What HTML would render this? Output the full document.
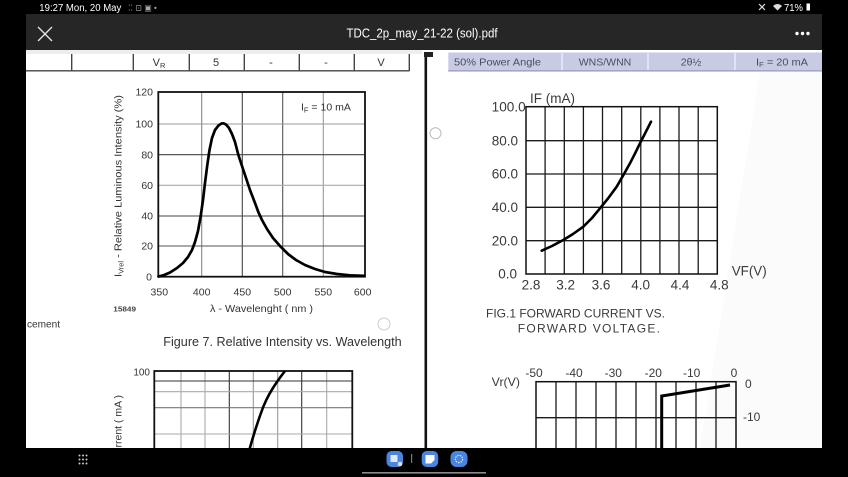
<!DOCTYPE html>
<html><head><meta charset="utf-8"><style>
html,body{margin:0;padding:0;background:#000;width:848px;height:477px;overflow:hidden;}
svg{display:block;font-family:"Liberation Sans",sans-serif;}
</style></head><body>
<svg width="848" height="477" viewBox="0 0 848 477" xmlns="http://www.w3.org/2000/svg">
<rect x="0" y="0" width="848" height="477" fill="#000"/>
<!-- status bar -->
<text x="39.3" y="10.8" font-size="10" fill="#fff" textLength="82" lengthAdjust="spacingAndGlyphs">19:27  Mon, 20 May</text>
<text x="128" y="10.5" font-size="8" fill="#aaa">⁚⁚ ⊡ ▣ •</text>
<path d="M759 4 L765 10 M765 4 L759 10" stroke="#ddd" stroke-width="1.2"/>
<path d="M773 6 Q777.5 2 782 6 L777.5 10.5 Z" fill="#ddd"/>
<text x="784" y="10.8" font-size="10" fill="#fff" textLength="19" lengthAdjust="spacingAndGlyphs">71%</text>
<rect x="806.5" y="3.5" width="3.5" height="7" fill="#fff"/>
<!-- app bar -->
<rect x="26" y="14" width="796" height="36" fill="#262626"/>
<path d="M38 27 L52 41 M52 27 L38 41" stroke="#e6e6e6" stroke-width="1.3"/>
<text x="422" y="37.5" font-size="13" fill="#fff" text-anchor="middle" textLength="151" lengthAdjust="spacingAndGlyphs">TDC_2p_may_21-22 (sol).pdf</text>
<circle cx="797" cy="33.5" r="1.7" fill="#fff"/><circle cx="802.5" cy="33.5" r="1.7" fill="#fff"/><circle cx="808" cy="33.5" r="1.7" fill="#fff"/>
<!-- page -->
<rect x="26" y="50" width="796" height="398" fill="#fff"/>
<rect x="26" y="50" width="396" height="4" fill="#eee"/>
<polygon points="760,72 822,72 822,448 700,448" fill="#fbfbfc"/>
<!-- left table row -->
<g stroke="#444" stroke-width="1.4">
<line x1="26" y1="70.8" x2="409.5" y2="70.8"/>
<line x1="71.7" y1="54" x2="71.7" y2="71"/>
<line x1="133.3" y1="54" x2="133.3" y2="71"/>
<line x1="189.3" y1="54" x2="189.3" y2="71"/>
<line x1="244.3" y1="54" x2="244.3" y2="71"/>
<line x1="299.3" y1="54" x2="299.3" y2="71"/>
<line x1="354.3" y1="54" x2="354.3" y2="71"/>
<line x1="409.3" y1="54" x2="409.3" y2="71"/>
</g>
<g font-size="11" fill="#333" text-anchor="middle">
<text x="159" y="66">V<tspan font-size="7.5" dy="2">R</tspan></text>
<text x="216" y="66">5</text>
<text x="271" y="66">-</text>
<text x="326" y="66">-</text>
<text x="381" y="66">V</text>
</g>
<!-- divider -->
<rect x="424.5" y="52" width="2.6" height="396" fill="#111"/>
<rect x="424" y="52" width="9" height="5" fill="#222"/>
<!-- right header band -->
<rect x="448.3" y="52.5" width="373.7" height="19" fill="#c9cbe5"/>
<rect x="448.3" y="70" width="373.7" height="1.6" fill="#a2a6c8"/>
<g stroke="#eef0fa" stroke-width="1.3"><line x1="562" y1="53" x2="562" y2="70"/><line x1="648" y1="53" x2="648" y2="70"/><line x1="735" y1="53" x2="735" y2="70"/></g>
<g font-size="10.5" fill="#4a4c66">
<text x="454" y="65.5" textLength="87" lengthAdjust="spacingAndGlyphs">50% Power Angle</text>
<text x="605" y="65.5" text-anchor="middle">WNS/WNN</text>
<text x="691" y="65.5" text-anchor="middle">2θ½</text>
<text x="756" y="65.5" textLength="52" lengthAdjust="spacingAndGlyphs">I<tspan font-size="7.5" dy="1.5">F</tspan><tspan dy="-1.5"> = 20 mA</tspan></text>
</g>
<!-- circles -->
<circle cx="435.5" cy="133.3" r="5.5" fill="none" stroke="#bbb" stroke-width="1"/>
<circle cx="384" cy="324" r="6" fill="none" stroke="#ccc" stroke-width="1"/>

<!-- LEFT CHART -->
<g stroke-width="1.1">
<line x1="201.7" y1="92" x2="201.7" y2="276.7" stroke="#888"/>
<line x1="242.3" y1="92" x2="242.3" y2="276.7" stroke="#444"/>
<line x1="282.7" y1="92" x2="282.7" y2="276.7" stroke="#555"/>
<line x1="323.3" y1="92" x2="323.3" y2="276.7" stroke="#999"/>
<line x1="158.3" y1="124" x2="365" y2="124" stroke="#999"/>
<line x1="158.3" y1="154.7" x2="365" y2="154.7" stroke="#444"/>
<line x1="158.3" y1="185.3" x2="365" y2="185.3" stroke="#aaa"/>
<line x1="158.3" y1="216" x2="365" y2="216" stroke="#444"/>
<line x1="158.3" y1="246" x2="365" y2="246" stroke="#555"/>
</g>
<rect x="158.3" y="92" width="206.7" height="184.7" fill="none" stroke="#111" stroke-width="1.8"/>
<polyline fill="none" stroke="#000" stroke-width="2.7" stroke-linejoin="round" stroke-linecap="round" points="158.5,276.5 163,275.5 170,272.5 177,268 183,263 188,257 192,250 195,242 198,231 200.7,216 203,200 205,183 207.3,165 209.5,150 212,138 215,130 218.5,125.5 221.5,123.5 223.5,123.3 226,124.5 229,128 232,134 235,142 238.3,154.7 241,163 245,175 250,190 255,203 258.3,212 262,220 267,229 273,238 280,246 288,254 296,260 305,265 315,269 325,272 337,274 350,275.3 364,275.8"/>
<g font-size="10.5" fill="#333" text-anchor="end">
<text x="153" y="95.7">120</text>
<text x="153" y="127.7">100</text>
<text x="153" y="158.4">80</text>
<text x="153" y="189">60</text>
<text x="153" y="219.7">40</text>
<text x="153" y="249.7">20</text>
<text x="152" y="280.4">0</text>
</g>
<g font-size="10.5" fill="#333" text-anchor="middle">
<text x="159.3" y="295.4">350</text>
<text x="201.7" y="295.4">400</text>
<text x="242.3" y="295.4">450</text>
<text x="282.7" y="295.4">500</text>
<text x="323.3" y="295.4">550</text>
<text x="362.7" y="295.4">600</text>
</g>
<text x="210" y="312" font-size="10.5" fill="#333" textLength="103" lengthAdjust="spacingAndGlyphs">λ - Wavelenght ( nm )</text>
<text x="113.3" y="311.5" font-size="7" font-weight="bold" fill="#444" textLength="22.7" lengthAdjust="spacingAndGlyphs">15849</text>
<text x="301" y="110.4" font-size="10.5" fill="#333">I<tspan font-size="7.5" dy="2">F</tspan><tspan dy="-2"> = 10 mA</tspan></text>
<text transform="translate(121.7,186) rotate(-90)" text-anchor="middle" font-size="10.5" fill="#333" textLength="182" lengthAdjust="spacingAndGlyphs">I<tspan font-size="7" dy="2">Vrel</tspan><tspan dy="-2"> - Relative Luminous Intensity (%)</tspan></text>
<text x="163.3" y="346" font-size="12.5" fill="#333" textLength="238.4" lengthAdjust="spacingAndGlyphs">Figure 7. Relative Intensity vs. Wavelength</text>
<text x="27" y="327.5" font-size="10" fill="#333" textLength="33" lengthAdjust="spacingAndGlyphs">cement</text>

<!-- RIGHT CHART -->
<g stroke="#1a1a1a" stroke-width="1.3">
<line x1="545.1" y1="106.7" x2="545.1" y2="274"/>
<line x1="564.3" y1="106.7" x2="564.3" y2="274"/>
<line x1="583.4" y1="106.7" x2="583.4" y2="274"/>
<line x1="602.5" y1="106.7" x2="602.5" y2="274"/>
<line x1="621.7" y1="106.7" x2="621.7" y2="274"/>
<line x1="640.8" y1="106.7" x2="640.8" y2="274"/>
<line x1="659.9" y1="106.7" x2="659.9" y2="274"/>
<line x1="679" y1="106.7" x2="679" y2="274"/>
<line x1="698.2" y1="106.7" x2="698.2" y2="274"/>
<line x1="526" y1="140.7" x2="717.3" y2="140.7"/>
<line x1="526" y1="174" x2="717.3" y2="174"/>
<line x1="526" y1="207.3" x2="717.3" y2="207.3"/>
<line x1="526" y1="240.7" x2="717.3" y2="240.7"/>
</g>
<rect x="526" y="106.7" width="191.3" height="167.3" fill="none" stroke="#111" stroke-width="1.5"/>
<polyline fill="none" stroke="#000" stroke-width="2.6" stroke-linejoin="round" stroke-linecap="round" points="541.7,250.7 552,246 563.3,240 573,234 583.3,226.7 592,218 600,208.3 608,198.5 616.7,186.7 624,174 630,163.3 635,153.5 640,143.3 645.5,132.5 651,121.7"/>
<g font-size="13.5" fill="#3a3a3a">
<text x="491.7" y="111.4" textLength="34" lengthAdjust="spacingAndGlyphs">100.0</text>
<text x="491.7" y="145.4">80.0</text>
<text x="491.7" y="178.7">60.0</text>
<text x="491.7" y="212">40.0</text>
<text x="491.7" y="245.4">20.0</text>
<text x="498.3" y="278.7">0.0</text>
<text x="530" y="103">IF (mA)</text>
<text x="731.7" y="275.4" textLength="35" lengthAdjust="spacingAndGlyphs">VF(V)</text>
</g>
<g font-size="13.5" fill="#3a3a3a" text-anchor="middle">
<text x="531" y="289.7">2.8</text>
<text x="565.7" y="289.7">3.2</text>
<text x="601" y="289.7">3.6</text>
<text x="640.7" y="289.7">4.0</text>
<text x="680" y="289.7">4.4</text>
<text x="719.3" y="289.7">4.8</text>
</g>
<text x="486" y="317.5" font-size="12" fill="#3a3a3a" textLength="179" lengthAdjust="spacingAndGlyphs">FIG.1 FORWARD CURRENT VS.</text>
<text x="517.7" y="332.5" font-size="12" fill="#3a3a3a" textLength="142.3" lengthAdjust="spacing">FORWARD VOLTAGE.</text>

<!-- LOWER LEFT CHART -->
<g stroke-width="1.1">
<line x1="181" y1="371" x2="181" y2="448" stroke="#aaa"/>
<line x1="205" y1="371" x2="205" y2="448" stroke="#aaa"/>
<line x1="229.3" y1="371" x2="229.3" y2="448" stroke="#333"/>
<line x1="253.3" y1="371" x2="253.3" y2="448" stroke="#999"/>
<line x1="277.7" y1="371" x2="277.7" y2="448" stroke="#999"/>
<line x1="301.7" y1="371" x2="301.7" y2="448" stroke="#333"/>
<line x1="326.7" y1="371" x2="326.7" y2="448" stroke="#aaa"/>
<line x1="154.3" y1="381" x2="352.3" y2="381" stroke="#333"/>
<line x1="154.3" y1="391.7" x2="352.3" y2="391.7" stroke="#aaa"/>
<line x1="154.3" y1="407.7" x2="352.3" y2="407.7" stroke="#777"/>
<line x1="154.3" y1="434" x2="352.3" y2="434" stroke="#aaa"/>
</g>
<rect x="154.3" y="371" width="198" height="85" fill="none" stroke="#111" stroke-width="1.8"/>
<path d="M285,371 Q270,390 263.3,406.7 Q256,426 249.3,450" fill="none" stroke="#000" stroke-width="2.6"/>
<text x="150" y="375.4" font-size="10" fill="#333" text-anchor="end">100</text>
<text transform="translate(121.5,395) rotate(-90)" text-anchor="end" font-size="10.5" fill="#333">Current ( mA )</text>

<!-- LOWER RIGHT CHART -->
<g stroke="#1a1a1a" stroke-width="1.3">
<line x1="556" y1="381.7" x2="556" y2="448"/>
<line x1="576" y1="381.7" x2="576" y2="448"/>
<line x1="596" y1="381.7" x2="596" y2="448"/>
<line x1="616" y1="381.7" x2="616" y2="448"/>
<line x1="636" y1="381.7" x2="636" y2="448"/>
<line x1="656" y1="381.7" x2="656" y2="448"/>
<line x1="676" y1="381.7" x2="676" y2="448"/>
<line x1="696" y1="381.7" x2="696" y2="448"/>
<line x1="716" y1="381.7" x2="716" y2="448"/>
<line x1="536" y1="417.7" x2="736" y2="417.7"/>
</g>
<rect x="536" y="381.7" width="200" height="75" fill="none" stroke="#111" stroke-width="1.5"/>
<polyline points="730,385 661.7,396 661.7,450" fill="none" stroke="#000" stroke-width="3"/>
<g font-size="12" fill="#3a3a3a" text-anchor="middle">
<text x="534" y="377">-50</text>
<text x="574" y="377">-40</text>
<text x="613.3" y="377">-30</text>
<text x="653.3" y="377">-20</text>
<text x="691.7" y="377">-10</text>
<text x="734" y="377">0</text>
</g>
<text x="491.7" y="386" font-size="12" fill="#3a3a3a" textLength="28.3" lengthAdjust="spacingAndGlyphs">Vr(V)</text>
<text x="745" y="388" font-size="12" fill="#3a3a3a">0</text>
<text x="743" y="421" font-size="12" fill="#3a3a3a">-10</text>

<!-- bottom nav -->
<rect x="0" y="448" width="848" height="29" fill="#000"/>
<g fill="#ccc">
<circle cx="79.5" cy="455.5" r="1"/><circle cx="83" cy="455.5" r="1"/><circle cx="86.5" cy="455.5" r="1"/>
<circle cx="79.5" cy="459.5" r="1"/><circle cx="83" cy="459.5" r="1"/><circle cx="86.5" cy="459.5" r="1"/>
<circle cx="79.5" cy="463.5" r="1"/><circle cx="83" cy="463.5" r="1"/><circle cx="86.5" cy="463.5" r="1"/>
</g>
<rect x="386.5" y="451" width="16.5" height="16" rx="5" fill="#4a86e0"/>
<rect x="390.5" y="455" width="7" height="7" fill="#dfe8f8"/>
<circle cx="400" cy="464" r="2.3" fill="#ddd"/>
<rect x="411" y="454" width="1.2" height="9" fill="#777"/>
<rect x="421.7" y="451" width="16.5" height="16" rx="5" fill="#4a86e0"/>
<path d="M425.5 455 H434.5 V460 L431 463.5 H425.5 Z" fill="#fff"/>
<rect x="450.5" y="451" width="17" height="16" rx="6" fill="#4a86e0"/>
<circle cx="459" cy="459" r="3.6" fill="none" stroke="#dfe8f8" stroke-width="1.2" stroke-dasharray="1.5 1"/>
<rect x="362" y="472" width="124" height="1.6" fill="#8a8a8a"/>
</svg>
</body></html>
